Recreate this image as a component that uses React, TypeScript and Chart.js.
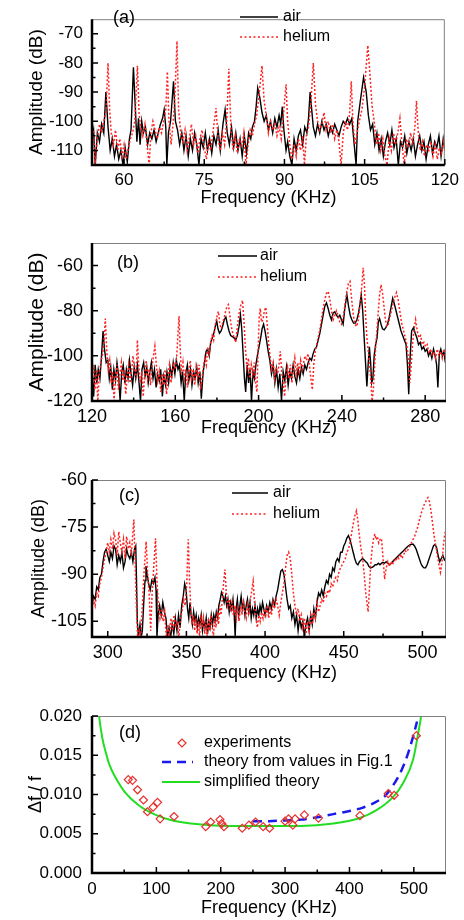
import React, { useEffect, useRef } from 'react';
import { Chart, registerables } from 'chart.js';
Chart.register(...registerables);

const FONT = "'Liberation Sans', Arial, Helvetica, sans-serif";

// ---------------- Panel (a) ----------------
const ticksAX = [60, 75, 90, 105, 120];
const ticksAY = [-110, -100, -90, -80, -70];
const airAF = [
  54.0, 54.3, 54.6, 55.0, 55.4, 55.8, 56.2, 56.6, 57.0, 57.4,
  57.8, 58.2, 58.6, 59.0, 59.4, 59.8, 60.2, 60.6, 61.0, 61.3,
  61.75, 62.1, 62.4, 62.7, 63.0, 63.3, 63.6, 64.0, 64.4, 64.8,
  65.2, 65.6, 66.0, 66.4, 66.8, 67.2, 67.5, 67.8, 68.0, 68.3,
  68.7, 69.25, 69.6, 70.0, 70.4, 70.8, 71.2, 71.6, 72.0, 72.4,
  72.8, 73.2, 73.6, 74.0, 74.4, 74.8, 75.2, 75.6, 76.0, 76.4,
  76.8, 77.2, 77.6, 78.0, 78.5, 78.9, 79.3, 79.7, 80.1, 80.5,
  80.9, 81.3, 81.7, 82.1, 82.5, 82.9, 83.3, 83.7, 84.0, 84.4,
  84.7, 85.0, 85.4, 85.8, 86.2, 86.6, 87.0, 87.4, 87.8, 88.2,
  88.6, 89.0, 89.3, 89.6, 89.9, 90.3, 90.6, 91.0, 91.4, 91.8,
  92.2, 92.6, 93.0, 93.4, 93.8, 94.2, 94.5, 94.8, 95.1, 95.4,
  95.8, 96.2, 96.6, 97.0, 97.4, 97.8, 98.2, 98.6, 99.0, 99.4,
  99.8, 100.2, 100.6, 101.0, 101.4, 101.8, 102.2, 102.6, 103.0, 103.4,
  103.7, 104.2, 104.8, 105.3, 105.7, 106.1, 106.5, 106.9, 107.3, 107.7,
  108.1, 108.5, 108.9, 109.3, 109.7, 110.1, 110.5, 110.9, 111.3, 111.7,
  112.1, 112.5, 112.9, 113.3, 113.7, 114.1, 114.5, 114.9, 115.3, 115.7,
  116.1, 116.5, 116.9, 117.3, 117.7, 118.1, 118.5, 118.9, 119.3, 119.7,
  120.0,
];
const airAV = [
  -106, -103, -115, -104, -107, -101, -104, -90, -102, -110,
  -106, -112, -108, -113, -110, -115, -109, -114, -106, -103,
  -81.5, -95, -107, -99, -108, -100, -104, -102, -108, -104,
  -106, -103, -107, -104, -101, -99, -96, -102, -115, -104,
  -100, -86.3, -100, -103, -108, -104, -110, -105, -112, -106,
  -110, -104, -108, -115, -106, -109, -104, -110, -106, -111,
  -105, -108, -103, -110, -101, -96, -104, -108, -102, -109,
  -104, -110, -106, -112, -105, -111, -104, -106, -102, -100,
  -95, -88.6, -92, -97, -100, -98, -103, -100, -104, -99,
  -102, -98, -101, -95, -103, -110, -107, -112, -115, -106,
  -110, -105, -103, -108, -102, -104, -99, -90, -96, -102,
  -105, -101, -104, -100, -103, -101, -105, -102, -104, -101,
  -103, -105, -102, -100, -101, -99, -101, -99, -107, -115,
  -100, -93, -85, -90, -98, -103, -101, -108, -104, -110,
  -106, -112, -107, -104, -108, -103, -109, -106, -115, -107,
  -109, -105, -111, -107, -110, -106, -112, -108, -105, -110,
  -107, -113, -108, -105, -111, -107, -109, -105, -112, -106,
  -110,
];
const heAF = [
  54.0, 54.3, 54.6, 55.0, 55.4, 55.8, 56.2, 56.6, 57.0, 57.3,
  57.6, 58.0, 58.4, 58.8, 59.2, 59.6, 60.0, 60.4, 60.8, 61.2,
  61.6, 62.0, 62.5, 62.8, 63.1, 63.5, 63.9, 64.3, 64.7, 65.0,
  65.4, 65.8, 66.2, 66.6, 67.0, 67.4, 67.8, 68.1, 68.4, 68.8,
  69.2, 69.5, 69.9, 70.2, 70.6, 71.0, 71.4, 71.8, 72.2, 72.6,
  73.0, 73.4, 73.8, 74.2, 74.6, 75.0, 75.4, 75.8, 76.2, 76.6,
  77.2, 77.6, 78.0, 78.4, 78.8, 79.2, 79.6, 80.0, 80.4, 80.8,
  81.2, 81.6, 82.0, 82.4, 82.8, 83.2, 83.6, 84.0, 84.4, 84.8,
  85.3, 85.8, 86.2, 86.6, 87.0, 87.4, 87.8, 88.2, 88.6, 89.0,
  89.4, 89.8, 90.3, 90.6, 91.0, 91.4, 91.8, 92.2, 92.6, 93.0,
  93.4, 93.75, 94.1, 94.5, 94.9, 95.4, 95.8, 96.2, 96.6, 97.0,
  97.4, 97.8, 98.2, 98.6, 99.0, 99.4, 99.8, 100.2, 100.6, 101.0,
  101.4, 101.8, 102.2, 102.5, 102.8, 103.2, 103.6, 104.0, 104.5, 105.0,
  105.6, 106.0, 106.4, 106.8, 107.2, 107.6, 108.0, 108.4, 108.8, 109.2,
  109.6, 110.0, 110.4, 110.8, 111.2, 111.6, 112.0, 112.4, 112.8, 113.2,
  113.6, 114.0, 114.4, 114.7, 115.0, 115.4, 115.8, 116.2, 116.6, 117.0,
  117.4, 117.8, 118.2, 118.6, 119.0, 119.4, 119.8, 120.0,
];
const heAV = [
  -108, -103, -115, -106, -101, -104, -100, -97, -80, -96,
  -104, -108, -103, -110, -106, -112, -108, -113, -109, -106,
  -104, -100, -81, -97, -102, -105, -101, -108, -115, -104,
  -100, -103, -106, -102, -104, -100, -96, -83, -100, -108,
  -100, -92, -72.5, -96, -104, -107, -103, -110, -106, -101,
  -108, -105, -111, -106, -103, -109, -113, -107, -110, -104,
  -95.5, -106, -110, -104, -108, -100, -82, -103, -110, -105,
  -111, -106, -109, -104, -115, -108, -103, -105, -101, -98,
  -90, -81, -93, -98, -104, -100, -103, -101, -105, -102,
  -106, -98, -87.3, -100, -108, -113, -108, -112, -106, -110,
  -105, -115, -105, -102, -95, -80, -94, -100, -103, -101,
  -97, -103, -100, -104, -101, -106, -103, -107, -115, -104,
  -100, -103, -97, -86.3, -100, -108, -104, -100, -96, -88,
  -74, -84, -95, -100, -108, -104, -110, -106, -112, -115,
  -106, -110, -104, -108, -104, -99, -108, -115, -106, -109,
  -104, -108, -102, -93, -103, -110, -107, -112, -108, -110,
  -107, -112, -108, -113, -109, -111, -107, -110,
];

// ---------------- Panel (b) ----------------
const ticksBX = [120, 160, 200, 240, 280];
const ticksBY = [-120, -100, -80, -60];
const airBF = [
  120, 120.8, 121.5, 122.3, 123, 123.8, 124.5, 125.3, 126, 126.8,
  127.6, 128.3, 129, 129.8, 130.5, 131.3, 132, 132.8, 133.5, 134.3,
  135, 135.8, 136.5, 137.3, 138, 138.8, 139.5, 140.3, 141, 141.8,
  142.5, 143.3, 144, 144.8, 145.5, 146.3, 147, 147.8, 148.5, 149.3,
  150, 150.8, 151.5, 152.3, 153, 153.8, 154.5, 155.3, 156, 156.8,
  157.5, 158.3, 159, 159.8, 160.5, 161.3, 162, 162.8, 163.5, 164.3,
  165, 165.8, 166.5, 167.3, 168, 168.8, 169.5, 170.3, 171, 171.8,
  172.5, 173.3, 174, 174.8, 175.5, 176.3, 177, 177.8, 178.5, 179.2,
  179.9, 180.5, 181.2, 182, 182.7, 183.5, 184.3, 185, 185.8, 186.6,
  187.4, 188.2, 189, 189.8, 190.6, 191.3, 191.9, 192.5, 193.2, 193.8,
  194.5, 195.2, 195.9, 196.6, 197.3, 198, 198.7, 199.4, 200.2, 201,
  201.7, 202.4, 203.1, 203.8, 204.6, 205.4, 206.2, 207, 207.8, 208.6,
  209.4, 210.2, 211, 211.8, 212.6, 213.4, 214.2, 215, 215.8, 216.6,
  217.4, 218.2, 219, 219.8, 220.6, 221.4, 222.2, 223, 223.8, 224.6,
  225.4, 226.2, 227, 227.8, 228.6, 229.4, 230.2, 231, 231.8, 232.6,
  233.4, 234.2, 235, 235.8, 236.6, 237.4, 238.2, 239, 239.8, 240.6,
  241.4, 242.4, 243.2, 244, 244.8, 245.6, 246.4, 247.2, 248, 248.7,
  249.3, 250, 250.7, 251.3, 252, 252.6, 253.2, 253.8, 254.3, 254.9,
  255.5, 256.2, 256.9, 257.5, 258.1, 258.8, 259.5, 260.3, 261.1, 261.9,
  262.7, 263.5, 264.4, 265.2, 266, 266.8, 267.6, 268.4, 269.2, 270,
  270.8, 271.5, 272.1, 272.8, 273.5, 274.4, 275.2, 276, 276.8, 277.6,
  278.4, 279.2, 280, 280.8, 281.6, 282.4, 283.2, 284, 284.8, 285.5,
  286.1, 286.8, 287.5, 288.3, 289, 289.7, 290,
];
const airBV = [
  -108, -118, -104, -112, -106, -110, -101, -89, -97, -103,
  -102, -110, -105, -115, -106, -111, -103, -109, -120, -107,
  -104, -112, -106, -110, -102, -108, -113, -105, -110, -104,
  -111, -120, -106, -103, -109, -105, -112, -107, -103, -110,
  -106, -114, -108, -111, -106, -118, -109, -113, -107, -112,
  -105, -109, -103, -108, -102, -106, -104, -112, -107, -120,
  -108, -104, -111, -106, -113, -107, -110, -105, -112, -107,
  -119, -108, -103, -98, -97, -100, -94, -92, -90, -87,
  -84.5, -88, -90, -89, -87, -84, -82.8, -86, -89, -91,
  -91.5, -92, -93, -91, -87, -81.8, -88, -98, -110, -116,
  -104, -112, -106, -120, -107, -110, -104, -100, -96, -92,
  -88, -86, -89, -93, -98, -102, -108, -104, -112, -106,
  -114, -108, -120, -107, -111, -105, -113, -107, -110, -104,
  -109, -112, -106, -110, -105, -108, -104, -106, -103, -101,
  -102, -99, -97, -96, -93, -90, -86, -82, -78, -76.5,
  -79, -82, -84, -81, -80.5, -82, -83, -82, -84, -86,
  -79, -73, -78, -82, -84, -85.5, -85.5, -84, -81, -77,
  -73, -80, -92, -102, -113.6, -104, -96, -103, -112, -110,
  -100, -95, -92, -85, -83.5, -86, -88, -88.5, -87.5, -86,
  -83, -79, -74.5, -77, -80, -83, -86, -89, -91, -93,
  -95, -104, -117, -100, -89, -87.5, -90, -92, -95, -94,
  -97, -96, -98, -97, -100, -98, -101, -97, -100, -104,
  -114, -99, -97, -100, -98, -103, -99,
];
const heBF = [
  120, 120.7, 121.4, 122.1, 122.8, 123.5, 124.2, 124.9, 125.6, 126.4,
  127.1, 127.8, 128.5, 129.2, 129.9, 130.6, 131.3, 132, 132.7, 133.4,
  134.1, 134.8, 135.5, 136.2, 136.9, 137.6, 138.3, 139, 139.7, 140.4,
  141.1, 141.8, 142.5, 143.2, 143.9, 144.6, 145.3, 146, 146.7, 147.4,
  148.1, 148.8, 149.5, 150.2, 150.9, 151.6, 152.3, 153, 153.7, 154.4,
  155.1, 155.8, 156.5, 157.2, 157.9, 158.6, 159.3, 160, 160.7, 161.3,
  161.8, 162.3, 163, 163.7, 164.4, 165.1, 165.8, 166.5, 167.2, 167.9,
  168.6, 169.3, 170, 170.7, 171.4, 172.1, 172.8, 173.5, 174.2, 174.9,
  175.6, 176.3, 177, 177.7, 178.4, 179.1, 179.9, 180.7, 181.4, 182.1,
  182.8, 183.5, 184.2, 184.9, 185.5, 186.2, 186.9, 187.6, 188.3, 189,
  189.7, 190.5, 191.3, 192.3, 193, 193.7, 194.4, 195.1, 195.8, 196.5,
  197.2, 197.9, 198.6, 199.2, 199.8, 200.3, 200.8, 201.4, 202.1, 202.8,
  203.5, 204.2, 204.9, 205.6, 206.3, 207, 207.7, 208.4, 209.1, 209.8,
  210.4, 211.1, 211.8, 212.5, 213.2, 213.9, 214.6, 215.3, 216, 216.7,
  217.4, 218.1, 218.8, 219.5, 220.2, 220.9, 221.6, 222.3, 223, 223.7,
  224.4, 225.1, 225.8, 226.5, 227.2, 227.9, 228.6, 229.3, 230, 230.8,
  231.6, 232.5, 233.4, 234.2, 235, 235.8, 236.6, 237.4, 238.2, 239,
  239.8, 240.6, 241.4, 242.3, 243.1, 243.9, 244.7, 245.5, 246.3, 247.1,
  247.9, 248.7, 249.5, 250.2, 250.8, 251.4, 252, 252.7, 253.4, 254,
  254.5, 255.1, 255.7, 256.3, 256.9, 257.5, 258.1, 258.8, 259.5, 260.2,
  260.9, 261.6, 262.3, 263, 263.8, 264.6, 265.4, 266.2, 267, 267.8,
  268.6, 269.4, 270.2, 271, 271.8, 272.6, 273.3, 274, 274.7, 275.4,
  276.2, 277, 277.8, 278.6, 279.4, 280.2, 281, 281.8, 282.6, 283.4,
  284.2, 285, 285.8, 286.6, 287.4, 288.2, 289, 289.7, 290,
];
const heBV = [
  -110, -104, -115, -106, -120, -108, -103, -100, -96, -83.5,
  -98, -106, -102, -112, -107, -120, -109, -104, -115, -108,
  -103, -111, -106, -117, -109, -104, -112, -107, -100, -106,
  -110, -93, -105, -112, -107, -118, -108, -102, -110, -106,
  -113, -105, -100, -95.7, -104, -111, -107, -116, -108, -113,
  -106, -117, -109, -104, -112, -108, -103, -106, -100, -90,
  -82.5, -96, -108, -103, -110, -106, -114, -107, -102, -110,
  -106, -113, -105, -109, -104, -115, -110, -105, -101, -104,
  -96, -99, -94, -91, -93, -87, -83, -80.3, -86, -88,
  -85, -83, -80, -78, -77.3, -82, -87, -90, -92, -94,
  -88, -82, -78, -75.4, -85, -97, -105, -101, -110, -104,
  -108, -103, -112, -116, -96, -83, -79, -85, -84, -80,
  -78.5, -87, -95, -101, -106, -103, -110, -105, -108, -104,
  -98, -107, -112, -118, -109, -105, -110, -104, -112, -106,
  -101, -108, -103, -107, -102, -106, -103, -100, -102, -99,
  -104, -110, -115, -104, -98, -95, -92, -89, -85, -80,
  -76, -72.5, -71.4, -75, -80, -84, -82, -80, -82, -85,
  -86, -83, -78, -72, -68, -67, -75, -82, -86, -87,
  -84, -78, -70, -61, -68, -82, -92, -98, -105, -112,
  -120, -115, -105, -95, -88, -80, -73, -68.5, -72, -78,
  -84, -87, -86, -83, -80, -77, -74, -72, -75, -80,
  -85, -88, -91, -94, -100, -112, -104, -94, -88, -84,
  -89, -92, -91, -95, -94, -96, -95, -99, -97, -100,
  -98, -101, -97, -100, -98, -101, -97, -100, -98,
];

// ---------------- Panel (c) ----------------
const ticksCX = [300, 350, 400, 450, 500];
const ticksCY = [-105, -90, -75, -60];
const airCF = [
  290, 291, 292, 293, 294, 295, 296, 297, 298, 299,
  300, 301, 302, 303, 304, 305, 306, 307, 308, 309,
  310, 311, 312, 313, 314, 315, 316, 317, 317.8, 318.3,
  318.8, 319.5, 320.5, 321.3, 322, 323, 323.7, 324.3, 325, 326,
  327, 328, 329, 330, 330.7, 331.3, 332, 333, 334, 335,
  336, 337, 338, 339, 340, 341, 342, 343, 344, 345,
  346, 347, 348, 348.9, 349.8, 350.7, 351.5, 352.3, 353, 353.8,
  354.6, 355.4, 356.2, 357, 357.8, 358.6, 359.4, 360.2, 361, 361.8,
  362.6, 363.4, 364.2, 365, 365.8, 366.6, 367.4, 368.2, 369, 369.8,
  370.6, 371.5, 372.3, 373.2, 374, 374.8, 375.6, 376.4, 377.2, 378,
  378.8, 379.6, 380.4, 381, 381.6, 382.4, 383.2, 384, 384.8, 385.6,
  386.4, 387.2, 388, 388.8, 389.6, 390.4, 391.2, 392, 392.8, 393.6,
  394.4, 395.2, 396, 396.8, 397.6, 398.4, 399.2, 400, 401, 402,
  403, 404, 405, 406, 407, 408, 409, 410, 411, 412,
  413, 414, 415, 416, 417, 418, 419, 420, 421, 422,
  423, 424, 425, 426, 427, 428, 429, 430, 431, 432,
  433, 434, 435, 436, 437, 438, 439, 440, 441, 442,
  443, 444, 445, 446, 447, 448, 449, 450, 451, 452,
  453, 454, 455, 456, 457, 458, 459, 460, 461, 462,
  463, 464, 465, 466, 467, 468, 469, 470, 471, 472,
  473, 474, 475, 476, 477, 478, 479, 480, 481, 482,
  483, 484, 485, 486, 487, 488, 489, 490, 491, 492,
  493, 494, 495, 496, 497, 498, 499, 500, 501, 502,
  503, 504, 505, 506, 507, 508, 509, 510, 511, 512,
  513, 514, 515,
];
const airCV = [
  -100, -97, -98, -94, -95, -91, -90, -86, -83, -82,
  -84, -86, -83, -85, -81, -82, -87, -84, -86, -83,
  -88, -86, -82, -84, -85, -83, -86, -82, -81, -92,
  -105, -110, -106, -110, -108, -98, -92, -87.4, -90, -93,
  -95, -92, -93, -91, -95, -110, -103, -100, -103, -99,
  -102, -104, -110, -107, -110, -106, -109, -104, -108, -103,
  -107, -100, -97, -93, -95, -101, -104, -99, -103, -106,
  -102, -105, -103, -107, -104, -106, -103, -108, -105, -107,
  -104, -109, -105, -107, -103, -106, -103, -105, -102, -104,
  -100, -98, -95.8, -97, -99, -97, -100, -98, -102, -99,
  -101, -98, -103, -110, -101, -98, -103, -100, -97, -101,
  -99, -103, -100, -98, -102, -99, -104, -101, -103, -100,
  -104, -101, -103, -100, -102, -99, -101, -103, -100, -102,
  -99, -101, -98, -100, -97, -95, -92, -89, -88.5, -90,
  -94, -98, -101, -100, -104, -102, -106, -103, -108, -104,
  -107, -105, -110, -106, -104, -108, -103, -106, -101, -104,
  -99, -96, -97, -95, -97, -94, -92, -93, -90, -91,
  -88, -89, -86, -85, -86, -83, -83, -81, -80, -78.5,
  -77.7, -79, -81, -83, -85, -86.5, -87, -86, -85.5, -85,
  -85.5, -86, -86.5, -87.5, -88, -87.8, -87.5, -87, -87, -86.5,
  -87, -86.5, -86.3, -86.5, -86, -86.5, -87, -86.7, -86, -85.5,
  -85, -84.5, -84, -83.5, -83, -82.5, -82, -81.5, -81, -80.7,
  -80.5, -80.4, -81, -82, -83.5, -85, -86.5, -87.5, -88, -88,
  -87, -85.5, -84, -82.5, -81, -80.5, -81.5, -84, -86, -85,
  -84, -85.5, -85,
];
const heCF = [
  290, 291, 292, 293, 294, 295, 296, 297, 298, 299,
  300, 301, 302, 303, 304, 305, 306, 307, 308, 309,
  310, 311, 312, 313, 314, 315, 315.8, 316.6, 317.4, 318.2,
  319, 320, 321, 322, 323, 324.4, 325.4, 326.3, 327.3, 328.2,
  329.2, 330.4, 331.3, 332.2, 333.2, 334.2, 335.2, 336.2, 337.2, 338.2,
  339.2, 340.2, 341.2, 342.2, 343.2, 344.2, 345.2, 346.2, 347.2, 348.2,
  349.2, 350.2, 351.2, 352, 352.8, 353.6, 354.4, 355.2, 356, 356.8,
  357.6, 358.4, 359.2, 360, 360.8, 361.6, 362.4, 363.2, 364, 364.8,
  365.6, 366.4, 367.2, 368, 368.8, 369.6, 370.4, 371.2, 372, 372.8,
  373.6, 374.5, 375.4, 376.3, 377.2, 378.1, 379, 379.9, 380.8, 381.7,
  382.6, 383.5, 384.4, 385.3, 386.2, 387.1, 388, 388.9, 389.8, 390.7,
  391.6, 392.4, 393.3, 394.2, 395.1, 396, 396.9, 397.8, 398.7, 399.6,
  400.5, 401.4, 402.3, 403.2, 404.1, 405, 406, 407, 408, 409,
  410, 411, 412, 413, 414, 415, 416, 417, 418, 419,
  420, 421, 422, 423, 424, 425, 426, 427, 428, 429,
  430, 431, 432, 433, 434, 435, 436, 437, 438, 439,
  440, 441, 442, 443, 444, 445, 446, 447, 448, 449,
  450, 451, 452, 453, 454, 455, 456, 457, 458.1, 459,
  460, 461, 462, 463, 464, 465, 465.5, 466.3, 467, 468,
  469, 469.8, 470.6, 471.4, 472.2, 473, 474, 475, 476, 477,
  478, 479, 480, 481, 482, 483, 484, 485, 486, 487,
  488, 489, 490, 491, 492, 493, 494, 495, 496, 497,
  498, 499, 500, 501, 502, 503, 503.5, 504.5, 505.5, 506.5,
  507.5, 508.5, 509.5, 510.5, 511.5, 512.5, 513.5, 514.3, 515,
];
const heCV = [
  -101, -98, -100, -96, -97, -93, -91, -88, -85, -83,
  -80, -83, -79, -82, -77, -79, -84, -76.5, -80, -83,
  -79, -85, -78, -82, -80, -84, -78, -72.6, -86, -100,
  -110, -108, -110, -100, -90, -79.6, -90, -96, -108, -96,
  -88, -78.6, -92, -100, -104, -101, -105, -102, -110, -106,
  -110, -104, -108, -103, -107, -105, -110, -104, -102, -98,
  -100, -93, -78.9, -92, -101, -106, -103, -108, -104, -109,
  -105, -110, -103, -107, -104, -109, -105, -110, -104, -108,
  -103, -107, -110, -104, -107, -102, -106, -100, -103, -98,
  -93, -88.5, -96, -100, -98, -102, -99, -103, -100, -104,
  -101, -105, -100, -103, -99, -102, -104, -100, -103, -98,
  -95, -92.3, -99, -104, -107, -103, -105, -102, -104, -101,
  -103, -100, -104, -101, -103, -99, -101, -98, -100, -103,
  -99, -96, -93, -88, -84, -83, -85, -90, -96, -100,
  -103, -101, -105, -103, -107, -104, -109, -105, -108, -103,
  -106, -102, -104, -99, -102, -100, -98, -99, -96, -97,
  -95, -96, -93, -94, -92, -91, -92, -89, -88, -87,
  -86, -85, -83, -82, -80, -77, -74, -71.5, -69.8, -73,
  -78, -82, -85, -90, -96, -100, -102, -95, -88, -82,
  -78.5, -77.2, -79, -78, -80, -79, -78.6, -85, -91.6, -88,
  -86, -87.5, -86, -87, -85.5, -86, -84.5, -85, -83.5, -85,
  -84, -82.5, -83, -82, -81, -80, -79, -78, -76.5, -75,
  -73, -71, -69.5, -68, -67, -66, -65.6, -67, -70, -74,
  -78, -81, -84, -87, -89.4, -86, -80, -77, -76,
];

// ---------------- Panel (d) ----------------
const ticksDX = [0, 100, 200, 300, 400, 500];
const ticksDY = [0, 0.005, 0.01, 0.015, 0.02];
const expF = [56.3, 63, 70.7, 80, 86.2, 95, 101.7, 105.8, 127.5, 176.7, 184.4, 198.8, 201.5, 205, 233.4, 243.8, 254.1, 265.9, 275.8, 300, 305.3, 312, 315.5, 330, 351.8, 416.3, 460.2, 469.5, 504];
const expV = [0.0119, 0.0118, 0.0106, 0.0093, 0.0078, 0.0084, 0.009, 0.0069, 0.0072, 0.0059, 0.0065, 0.0068, 0.0063, 0.0059, 0.0057, 0.0061, 0.0065, 0.0059, 0.0057, 0.0066, 0.0069, 0.0061, 0.0069, 0.0074, 0.007, 0.0073, 0.0101, 0.0099, 0.0175];
const theoryF = [250, 275, 300, 325, 350, 375, 400, 420, 440, 455, 468, 478, 487, 494, 500, 505];
const theoryV = [0.0066, 0.0066, 0.0067, 0.0068, 0.0071, 0.0075, 0.0079, 0.0083, 0.009, 0.0098, 0.0112, 0.0126, 0.0143, 0.016, 0.0177, 0.0193];
const simpleF = [8, 11, 16, 22, 27, 37, 52, 73, 99, 125, 166, 213, 276, 324, 375, 416, 442, 468, 483, 499, 507, 512, 514];
const simpleV = [0.0225, 0.02, 0.0172, 0.0152, 0.0138, 0.0121, 0.0102, 0.0086, 0.0074, 0.0067, 0.0062, 0.006, 0.006, 0.006, 0.0063, 0.007, 0.008, 0.0097, 0.0114, 0.0145, 0.0179, 0.0204, 0.022];

// ---------------- styles / layout ----------------
const RED = '#ff2222';
const AREA_LEFT = 92;
const AREA_RIGHT = 446;
const W = 464;

const xy = (f: number[], v: number[]) => f.map((x, i) => ({ x, y: v[i] }));

function minorTicks(majors: number[], min: number, max: number): number[] {
  const half = (majors[1] - majors[0]) / 2;
  const out: number[] = [];
  for (let i = -60; i <= 60; i++) {
    const v = majors[0] + (2 * i + 1) * half;
    if (v > min + half * 0.01 && v < max - half * 0.01) out.push(v);
  }
  return out;
}

const spectrumSets = (airF: number[], airV: number[], heF: number[], heV: number[]) => [
  { label: 'helium', data: xy(heF, heV), borderColor: RED, borderWidth: 1.5, borderDash: [2, 2], pointRadius: 0, tension: 0, fill: false, order: 0, clip: 0 },
  { label: 'air', data: xy(airF, airV), borderColor: '#000', borderWidth: 1.4, pointRadius: 0, tension: 0, fill: false, order: 1, clip: 0 },
];

const spectrumLegend = (x1: number, x2: number, y1: number, y2: number, tx: number) => [
  { kind: 'solid', color: '#000', width: 1.5, x1, x2, y: y1, text: 'air', tx },
  { kind: 'dotted', color: RED, width: 1.6, x1, x2, y: y2, text: 'helium', tx },
];

const panels: any[] = [
  {
    id: 'a', top: 0, height: 211, areaTop: 6, areaBottom: 165,
    xMin: 54, xMax: 120, yMin: -115, yMax: -65, xTicks: ticksAX, yTicks: ticksAY,
    tickSize: 17, xTickPad: 5, yTickPad: 9, xTitleCenter: 198,
    yTitle: 'Amplitude (dB)', yTitleSize: 19, yTitleCenter: 36.5,
    label: '(a)', labelX: 113, labelY: 18,
    legend: spectrumLegend(240, 278, 17, 37, 283),
    datasets: spectrumSets(airAF, airAV, heAF, heAV),
    fmtY: (v: number) => String(v),
  },
  {
    id: 'b', top: 220, height: 221, areaTop: 243, areaBottom: 401,
    xMin: 120, xMax: 290, yMin: -120, yMax: -50, xTicks: ticksBX, yTicks: ticksBY,
    tickSize: 18, xTickPad: 5, yTickPad: 9, xTitleCenter: 428,
    yTitle: 'Amplitude (dB)', yTitleSize: 21, yTitleCenter: 37,
    label: '(b)', labelX: 117, labelY: 263,
    legend: spectrumLegend(218, 257, 256, 277, 260),
    datasets: spectrumSets(airBF, airBV, heBF, heBV),
    fmtY: (v: number) => String(v),
  },
  {
    id: 'c', top: 455, height: 231, areaTop: 480, areaBottom: 637,
    xMin: 290, xMax: 515, yMin: -110, yMax: -60, xTicks: ticksCX, yTicks: ticksCY,
    tickSize: 18, xTickPad: 5, yTickPad: 5, xTitleCenter: 673,
    yTitle: 'Amplitude (dB)', yTitleSize: 18, yTitleCenter: 39.5,
    label: '(c)', labelX: 119, labelY: 496,
    legend: spectrumLegend(232, 268, 493, 514, 273),
    datasets: spectrumSets(airCF, airCV, heCF, heCV),
    fmtY: (v: number) => String(v),
  },
  {
    id: 'd', top: 690, height: 230, areaTop: 716, areaBottom: 873,
    xMin: 0, xMax: 550, yMin: 0, yMax: 0.02, xTicks: ticksDX, yTicks: ticksDY,
    tickSize: 17, xTickPad: 6, yTickPad: 10, xTitleCenter: 908,
    yTitle: '\u0394f / f', yTitleSize: 18, yTitleCenter: 36,
    label: '(d)', labelX: 119, labelY: 733,
    legend: [
      { kind: 'diamond', color: '#e8302c', x1: 182, x2: 182, y: 743, text: 'experiments', tx: 204 },
      { kind: 'dashed', color: '#1a1aee', width: 2.5, x1: 162, x2: 193, y: 762, text: 'theory from values in Fig.1', tx: 204 },
      { kind: 'solid', color: '#22dd22', width: 2, x1: 162, x2: 200, y: 782, text: 'simplified theory', tx: 204 },
    ],
    datasets: [
      { label: 'experiments', data: xy(expF, expV), showLine: false, pointStyle: 'rectRot', pointRadius: 4, pointBorderWidth: 1.2, borderColor: '#e8302c', pointBorderColor: '#e8302c', backgroundColor: 'rgba(0,0,0,0)', pointBackgroundColor: 'rgba(0,0,0,0)', order: 0, clip: false },
      { label: 'theory', data: xy(theoryF, theoryV), borderColor: '#1a1aee', borderWidth: 2.5, borderDash: [9, 6], pointRadius: 0, tension: 0.3, fill: false, order: 2, clip: 0 },
      { label: 'simplified', data: xy(simpleF, simpleV), borderColor: '#22dd22', borderWidth: 2, pointRadius: 0, tension: 0.3, cubicInterpolationMode: 'monotone', fill: false, order: 1, clip: 0 },
    ],
    fmtY: (v: number) => Number(v).toFixed(3),
  },
];

function framePlugin(p: any) {
  return {
    id: 'frame_' + p.id,
    afterDatasetsDraw(chart: any) {
      const { ctx, chartArea: a, scales } = chart;
      const xs = scales.x;
      const ys = scales.y;
      ctx.save();
      ctx.setLineDash([]);
      ctx.strokeStyle = '#808080';
      ctx.lineWidth = 1;
      ctx.beginPath();
      ctx.moveTo(a.left, a.top + 0.5);
      ctx.lineTo(a.right - 0.5, a.top + 0.5);
      ctx.lineTo(a.right - 0.5, a.bottom);
      ctx.stroke();
      ctx.strokeStyle = '#000';
      ctx.lineWidth = 1.5;
      ctx.beginPath();
      const xMin = minorTicks(p.xTicks, p.xMin, p.xMax);
      const yMin = minorTicks(p.yTicks, p.yMin, p.yMax);
      p.xTicks.forEach((v: number) => { const px = xs.getPixelForValue(v); ctx.moveTo(px, a.bottom); ctx.lineTo(px, a.bottom - 6); });
      xMin.forEach((v: number) => { const px = xs.getPixelForValue(v); ctx.moveTo(px, a.bottom); ctx.lineTo(px, a.bottom - 3.5); });
      p.yTicks.forEach((v: number) => { const py = ys.getPixelForValue(v); ctx.moveTo(a.left, py); ctx.lineTo(a.left + 6, py); });
      yMin.forEach((v: number) => { const py = ys.getPixelForValue(v); ctx.moveTo(a.left, py); ctx.lineTo(a.left + 3.5, py); });
      ctx.stroke();
      ctx.lineWidth = 2.5;
      ctx.beginPath();
      ctx.moveTo(a.left, a.top);
      ctx.lineTo(a.left, a.bottom);
      ctx.lineTo(a.right, a.bottom);
      ctx.stroke();
      ctx.fillStyle = '#000';
      ctx.font = `18px ${FONT}`;
      ctx.textBaseline = 'middle';
      ctx.textAlign = 'left';
      ctx.fillText(p.label, p.labelX, p.labelY - p.top);
      ctx.font = `16px ${FONT}`;
      p.legend.forEach((it: any) => {
        const y = it.y - p.top;
        ctx.strokeStyle = it.color;
        if (it.kind === 'diamond') {
          const r = 4;
          ctx.lineWidth = 1.2;
          ctx.setLineDash([]);
          ctx.beginPath();
          ctx.moveTo(it.x1 - r, y);
          ctx.lineTo(it.x1, y - r);
          ctx.lineTo(it.x1 + r, y);
          ctx.lineTo(it.x1, y + r);
          ctx.closePath();
          ctx.stroke();
        } else {
          ctx.lineWidth = it.width;
          ctx.setLineDash(it.kind === 'dotted' ? [2, 2.5] : it.kind === 'dashed' ? [9, 6] : []);
          ctx.beginPath();
          ctx.moveTo(it.x1, y);
          ctx.lineTo(it.x2, y);
          ctx.stroke();
        }
        ctx.setLineDash([]);
        ctx.fillStyle = '#000';
        ctx.fillText(it.text, it.tx, y);
      });
      ctx.restore();
    },
  };
}

function makeConfig(p: any): any {
  const xLine = 18 * 1.2;
  const yLine = p.yTitleSize * 1.2;
  const xTitlePadBottom = p.top + p.height - p.xTitleCenter - xLine / 2;
  const yTitlePadTop = p.yTitleCenter - yLine / 2;
  const tickFont = { family: FONT, size: p.tickSize };
  return {
    type: 'line',
    data: { datasets: p.datasets },
    options: {
      animation: false,
      responsive: false,
      events: [],
      layout: { padding: { top: p.areaTop - p.top, right: W - AREA_RIGHT, bottom: 0, left: 0 } },
      plugins: { legend: { display: false }, tooltip: { enabled: false } },
      scales: {
        x: {
          type: 'linear', position: 'bottom', min: p.xMin, max: p.xMax,
          afterFit: (s: any) => { s.height = p.top + p.height - p.areaBottom; },
          afterBuildTicks: (s: any) => { s.ticks = p.xTicks.map((v: number) => ({ value: v })); },
          grid: { display: false, drawTicks: false },
          border: { display: false },
          ticks: { color: '#000', font: tickFont, padding: p.xTickPad, autoSkip: false, maxRotation: 0, minRotation: 0, callback: (v: any) => String(v) },
          title: { display: true, text: 'Frequency (KHz)', color: '#000', font: { family: FONT, size: 18 }, padding: { top: 0, bottom: xTitlePadBottom } },
        },
        y: {
          type: 'linear', position: 'left', min: p.yMin, max: p.yMax,
          afterFit: (s: any) => { s.width = AREA_LEFT; },
          afterBuildTicks: (s: any) => { s.ticks = p.yTicks.map((v: number) => ({ value: v })); },
          grid: { display: false, drawTicks: false },
          border: { display: false },
          ticks: { color: '#000', font: tickFont, padding: p.yTickPad, autoSkip: false, callback: (v: any) => p.fmtY(v) },
          title: { display: true, text: p.yTitle, color: '#000', font: { family: FONT, size: p.yTitleSize }, padding: { top: yTitlePadTop, bottom: 0 } },
        },
      },
    },
    plugins: [framePlugin(p)],
  };
}

function Panel({ p }: { p: any }) {
  const ref = useRef<HTMLCanvasElement>(null);
  useEffect(() => {
    if (!ref.current) return;
    const chart = new Chart(ref.current, makeConfig(p));
    return () => chart.destroy();
  }, [p]);
  return (
    <div style={{ position: 'absolute', left: 0, top: p.top, width: W, height: p.height }}>
      <canvas ref={ref} width={W} height={p.height} style={{ width: W, height: p.height, display: 'block' }} />
    </div>
  );
}

export default function App() {
  return (
    <div style={{ position: 'absolute', left: 0, top: 0, width: W, height: 920, background: '#fff', overflow: 'hidden' }}>
      {panels.map((p) => <Panel key={p.id} p={p} />)}
    </div>
  );
}
